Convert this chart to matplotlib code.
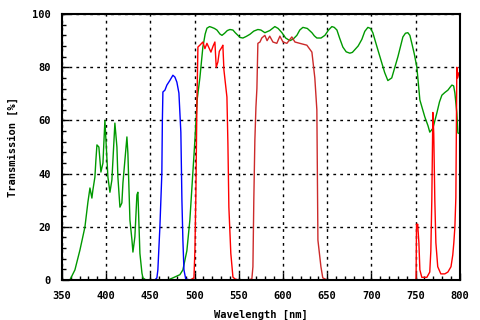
import numpy as np
import matplotlib
matplotlib.use("Agg")
import matplotlib.pyplot as plt

# green: broad transmission curve
green_wl = [350, 359, 364.7, 370.4, 376, 379.4, 381.7, 383.9, 385, 387.3, 388.4, 389.6,
            391.8, 394.1, 396.4, 398.6, 402, 404.3, 406.5, 409.9, 412.2, 413.3, 415.6,
            417.8, 419, 421.2, 423.5, 424.6, 426.9, 429.2, 430.3, 432.5, 434.8, 435.9,
            438.2, 440.5, 441.6, 445, 470, 475.5, 483.4, 486.8, 491.3, 494.7, 498, 500.4,
            503, 506, 509.4, 512, 514, 517, 519.6, 522.5, 525.3, 528.7, 531, 534, 537,
            540, 543.4, 546, 549, 551.5, 554.7, 558.5, 562.6, 567, 571.6, 575, 579.5,
            585, 590.8, 594.5, 598.8, 603, 607.8, 611.5, 615.7, 619, 622.5, 627.5, 632.7,
            635.5, 638.3, 643, 647.4, 651.5, 655.3, 658, 661, 664, 667.7, 671.5, 675.6,
            678.5, 681, 685, 689.2, 692.5, 696, 699, 701.6, 706, 711.8, 715, 718.6, 723,
            726.5, 730, 733, 735.6, 738.5, 741.2, 743.5, 745.7, 748.5, 751.4, 754.8,
            760.4, 764, 766, 769.5, 774, 777, 779.7, 783, 786.5, 789, 791, 793, 794.4,
            796.6, 797.8, 800]
green_t = [0, 0, 3.8, 11.3, 19.9, 29.3, 34.6, 30.8, 33.8, 38.7, 45, 50.8,
           50, 40.6, 44, 60, 38.7, 33, 37.6, 59, 50, 38.7, 27.4,
           29, 36.5, 45, 53.8, 47.7, 22.6, 15, 10.5, 16.2, 32, 33,
           10, 2.6, 0.8, 0, 0, 0.8, 2, 3.8, 11, 22.6, 40, 52.6,
           68, 76, 87.6, 92.5, 94.7, 95.3, 95, 94.6, 94, 92.5, 92, 92.8, 93.8,
           94.2, 94, 93, 92, 91.2, 91, 91.6, 92.4, 93.6, 94.2, 94, 93,
           93.8, 95.3, 94.6, 93, 91, 90, 90.6, 92, 94, 95, 94.6, 93,
           91.8, 91, 91, 92, 94, 95.3, 95, 94, 91, 87.6, 85.8, 85.3,
           85.6, 86.5, 88, 90.5, 93.5, 95, 94.6, 93, 88, 81.6, 78, 75, 76,
           80, 84, 88, 91.4, 92.8, 93, 92, 89, 85, 80, 67.7,
           61.3, 58, 55.6, 57, 62.8, 67, 69.5, 70.5, 71.4, 72.5, 73.3, 73, 70.3,
           62.8, 55.3, 55]

# blue band
blue_wl = [455, 457.4, 458.5, 460.8, 463, 463.6, 464.2, 466.5, 468.7, 472, 475.5,
           477.8, 480, 482.3, 484.5, 485.7, 486.8, 488, 490, 495]
blue_t = [0, 0.8, 3.8, 20, 40, 60, 70.7, 71.4, 73.3, 75, 77,
          76.3, 74.4, 70.3, 55.6, 30, 15, 3.8, 0.4, 0]

# red bands
red1_wl = [495, 499.3, 500.4, 501.5, 502.6, 503.8, 506, 509.4, 511.7, 514, 518.5,
           521, 523, 524.5, 526.4, 528, 531, 532, 533.2, 536.6, 537.7, 538.8, 541,
           543.4, 545.6, 550]
red1_t = [0, 0.8, 11, 32.7, 65, 87.6, 88.3, 89.5, 87, 89, 85.7,
          88, 89.5, 80, 82, 86, 87.6, 88.3, 79, 68.8, 51.5, 27.4, 10,
          1.1, 0.4, 0]

red2_wl = [560, 564.8, 566, 567, 568.2, 569.4, 570.5, 571.6, 574, 576, 579.5, 582,
           585, 588.6, 593, 596.5, 600, 604.4, 610, 613.5, 619, 627, 632.7, 636,
           638.3, 639.5, 642.9, 645, 650]
red2_t = [0, 0.4, 5, 30, 52.6, 65, 72, 89, 89.5, 91, 92, 90,
          91.7, 89.5, 89, 91.7, 89.5, 89, 91.4, 89.5, 89, 88.3, 85.7, 76,
          64, 15, 5, 0.8, 0]

red3_wl = [745, 750.5, 751, 751.4, 752.3, 753.7, 754.8, 757, 762.7, 766, 767.2,
           768.3, 769.5, 770.5, 771.7, 772.9, 775, 778.5, 783, 786.5, 790, 792,
           793.2, 794.4, 795.5, 796.6, 797.5, 799, 800]
red3_t = [0, 0, 21, 20, 21, 14, 3.8, 1, 1, 3, 11,
          30, 63, 55, 30, 14, 5, 2.3, 2.3, 3, 5, 9.4,
          14, 20, 31, 80, 76, 78, 77]

plt.rcParams['font.family'] = 'DejaVu Sans Mono'
plt.rcParams['font.weight'] = 'bold'

fig = plt.figure(figsize=(4.8, 3.2), dpi=100)
ax = fig.add_axes([0.129, 0.125, 0.829, 0.831])

ax.plot(green_wl, green_t, color='#009900', lw=1)
ax.plot(blue_wl, blue_t, color='#0000ff', lw=1)
ax.plot(red1_wl, red1_t, color='#ff0000', lw=1)
ax.plot(red2_wl, red2_t, color='#cc2a2a', lw=1)
ax.plot(red3_wl, red3_t, color='#ff0000', lw=1)

ax.set_xlim(350, 800)
ax.set_ylim(0, 100)
ax.set_xticks(np.arange(350, 801, 50))
ax.set_yticks(np.arange(0, 101, 20))
ax.set_xticks(np.arange(350, 801, 10), minor=True)
ax.set_yticks(np.arange(0, 101, 4), minor=True)
ax.tick_params(which='both', direction='in', labelsize=7.5, width=1)
ax.tick_params(which='major', length=5)
ax.tick_params(which='minor', length=3)
ax.tick_params(axis='x', which='major', pad=8)
ax.tick_params(axis='y', which='major', pad=8)
ax.grid(True, which='major', color='black', linestyle=(0, (2, 3)), lw=1)
for s in ax.spines.values():
    s.set_linewidth(1.5)

ax.set_xlabel('Wavelength [nm]', fontsize=7.5, fontweight='bold', labelpad=6)
ax.set_ylabel('Transmission [%]', fontsize=7.5, fontweight='bold', labelpad=10)

fig.savefig('out.png', dpi=100)
